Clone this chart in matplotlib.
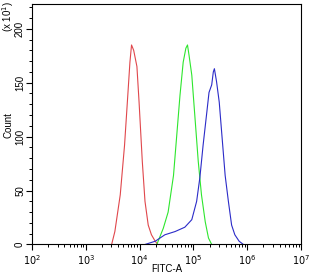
import numpy as np
import matplotlib.pyplot as plt
from matplotlib.ticker import LogLocator, MultipleLocator, FixedLocator

plt.rcParams['font.family'] = ['Liberation Sans', 'DejaVu Sans']

# histogram outlines: log10(FITC-A) vs count (x10)
red_log = [3.48, 3.54, 3.64, 3.72, 3.78, 3.82, 3.85, 3.89, 3.95, 3.99,
           4.05, 4.10, 4.16, 4.22, 4.29, 4.34]
red_cnt = [0, 12, 46, 92, 138, 169, 185, 180, 165, 132, 77, 40, 18, 9, 3, 0]

green_log = [4.32, 4.44, 4.53, 4.63, 4.69, 4.75, 4.81, 4.86, 4.89, 4.92,
             4.97, 5.03, 5.09, 5.15, 5.22, 5.28, 5.34]
green_cnt = [0, 15, 30, 64, 101, 138, 169, 182, 185, 175, 157, 117, 77,
             46, 21, 6, 0]

blue_log = [4.10, 4.29, 4.47, 4.66, 4.84, 4.97, 5.06, 5.12, 5.18, 5.25,
            5.29, 5.34, 5.37, 5.39, 5.43, 5.48, 5.53, 5.59, 5.65, 5.71,
            5.77, 5.85, 5.93]
blue_cnt = [0, 3, 9, 12, 16, 23, 40, 62, 92, 123, 141, 148, 160, 163, 151,
            132, 101, 64, 40, 18, 9, 3, 0]

series = [(red_log, red_cnt, '#e0474c'),
          (green_log, green_cnt, '#2ee62e'),
          (blue_log, blue_cnt, '#2b2bc8')]

fig = plt.figure(figsize=(3.15, 2.75), dpi=100)
ax = fig.add_axes([0.1016, 0.111, 0.854, 0.8745])

for lg, cnt, col in series:
    ax.plot(10 ** np.array(lg), cnt, color=col, lw=0.8)

ax.set_xscale('log')
ax.set_xlim(1e2, 1e7)
ax.set_ylim(0, 223)
ax.xaxis.set_major_locator(FixedLocator([1e2, 1e3, 1e4, 1e5, 1e6, 1e7]))
ax.xaxis.set_minor_locator(LogLocator(base=10, subs=np.arange(2, 10)))
ax.set_xticklabels([r'$10^{%d}$' % k for k in range(2, 8)], fontsize=7)
ax.yaxis.set_major_locator(MultipleLocator(50))
ax.yaxis.set_minor_locator(MultipleLocator(10))
for t in ax.get_yticklabels():
    t.set_rotation(90)
    t.set_va('center')
    t.set_fontsize(7)

ax.tick_params(which='major', direction='out', length=4, width=0.8, pad=2)
ax.tick_params(axis='y', which='major', pad=1)
ax.tick_params(which='minor', direction='out', length=2.5, width=0.7)
for s in ax.spines.values():
    s.set_linewidth(0.8)

fig.text(0.529, 0.022, 'FITC-A', fontsize=7, ha='center', va='center')
fig.text(0.026, 0.546, 'Count', fontsize=7, rotation=90, ha='center', va='center')
fig.text(0.026, 0.995, r'(x 10$^1$)', rotation=90, fontsize=7, va='top', ha='center')

fig.savefig('out.png', dpi=100)
